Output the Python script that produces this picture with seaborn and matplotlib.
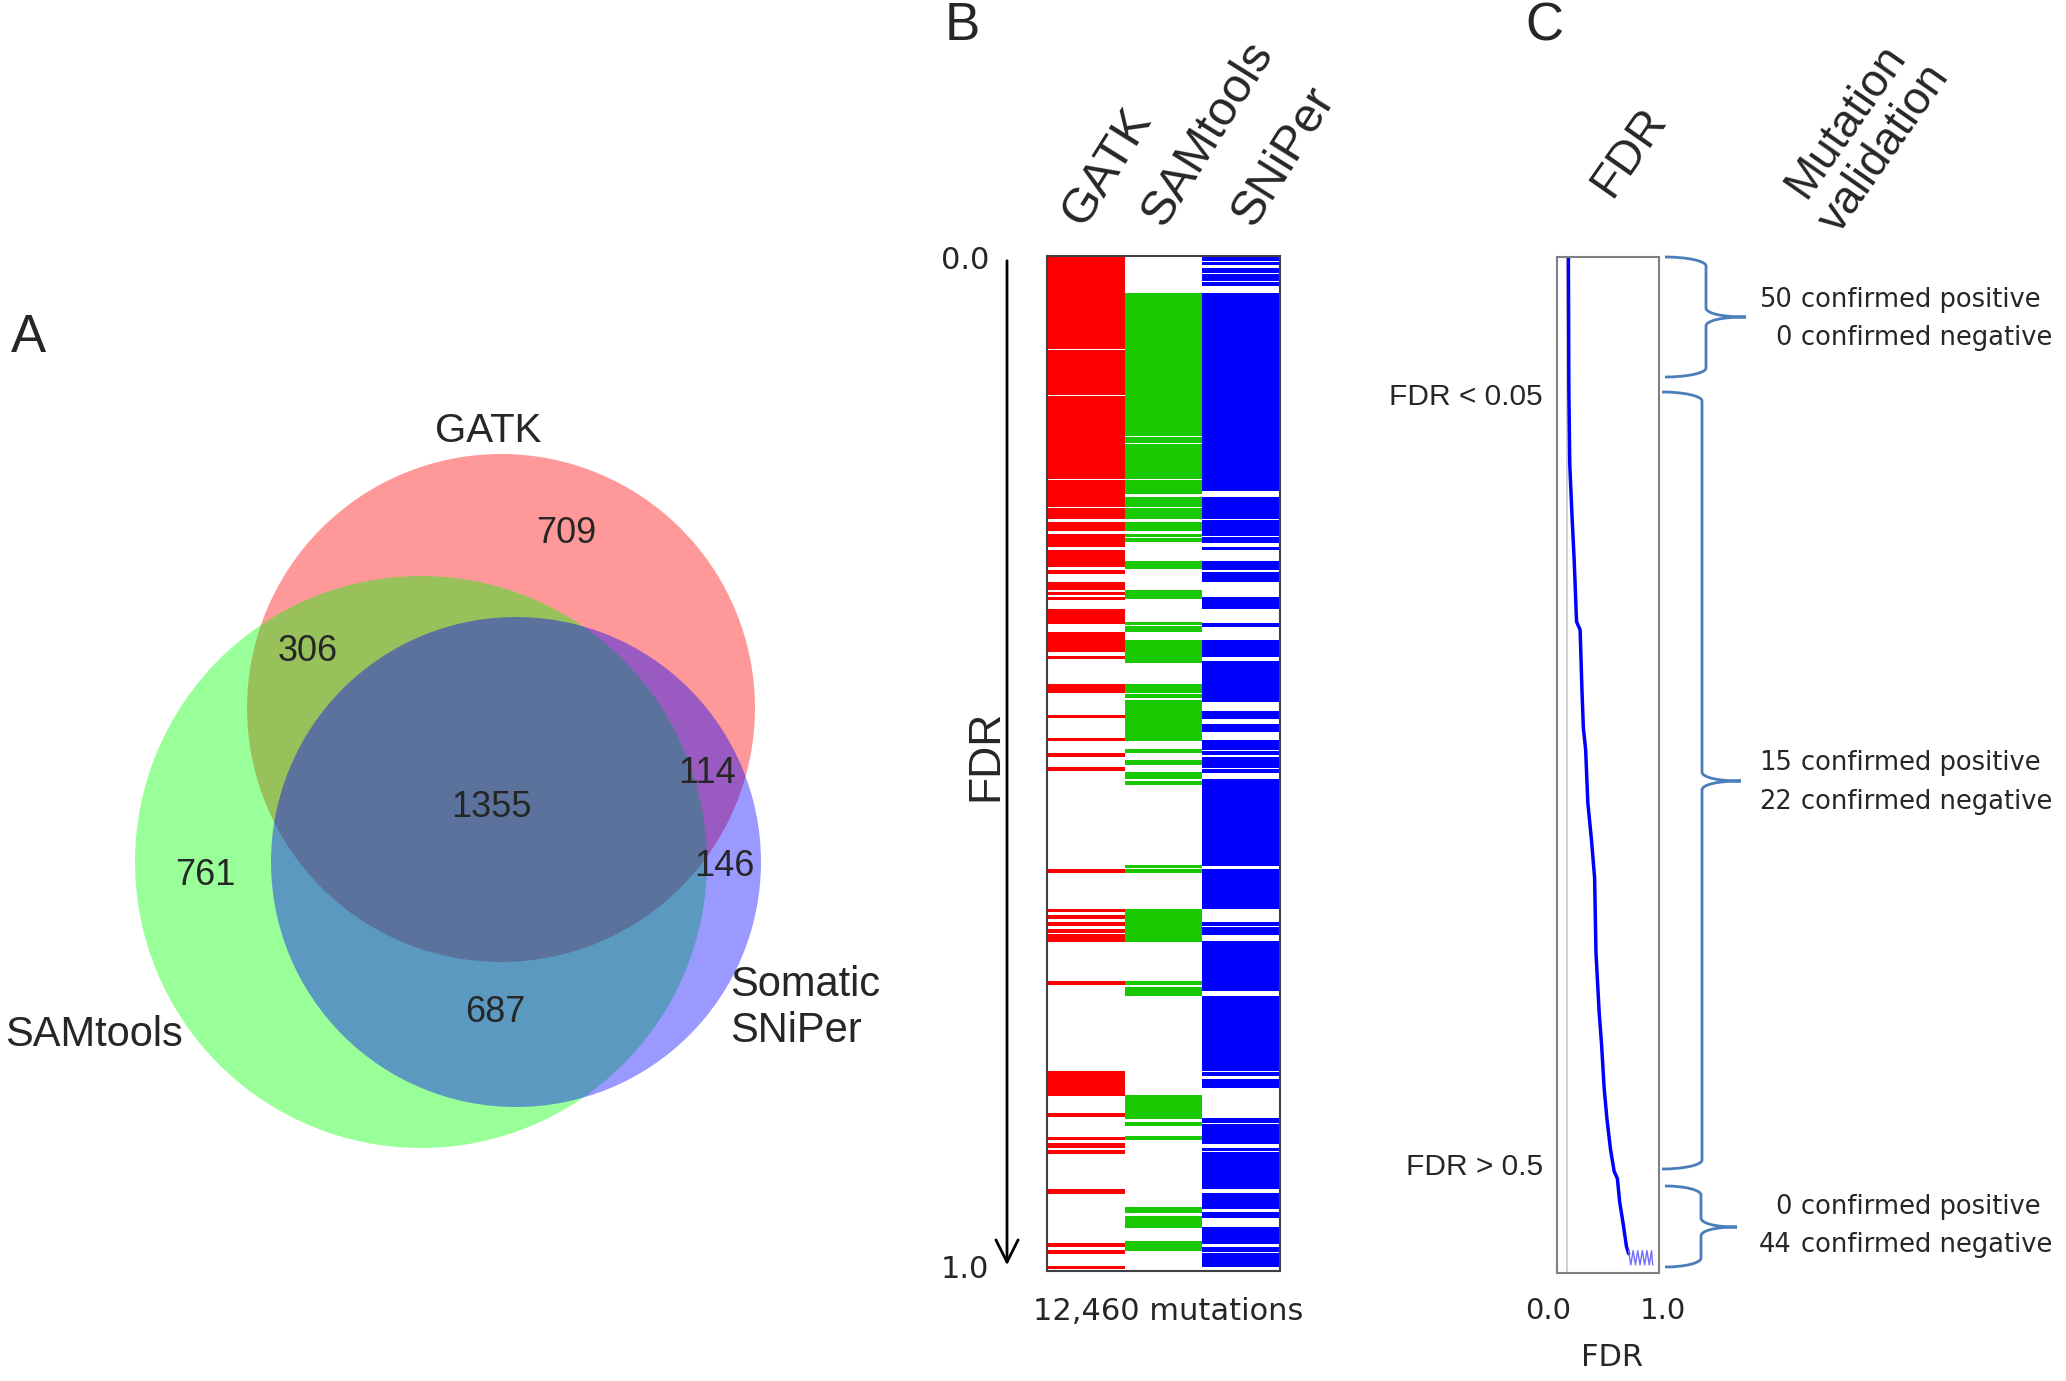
import numpy as np
import pandas as pd
import matplotlib
matplotlib.use("Agg")
import matplotlib.pyplot as plt
import seaborn as sns
from matplotlib.colors import ListedColormap
from matplotlib.patches import Circle, PathPatch
from matplotlib.path import Path
import matplotlib.transforms as mtransforms

# ---------------- data ----------------
# Panel A: Venn counts
venn_sets = ["GATK", "SAMtools", "Somatic\nSNiPer"]
region_names = ["GATK only", "GATK+SAMtools", "all three", "GATK+SNiPer",
                "SNiPer only", "SAMtools only", "SAMtools+SNiPer"]
region_counts = [709, 306, 1355, 114, 146, 761, 687]

# Panel B: calls per caller along the FDR-ranked list (positions in 1/1000 of 12,460 mutations)
n_mutations = 12460
callers = ["GATK", "SAMtools", "SNiPer"]
gatk_calls = [(0, 91), (93, 136), (138, 219), (221, 246), (248, 258), (262, 270),
              (274, 286), (290, 305), (309, 312), (321, 328), (331, 333), (336, 338),
              (348, 362), (370, 389), (394, 396), (422, 430), (452, 454), (475, 477),
              (490, 493), (503, 506), (604, 607), (643, 645), (649, 652), (656, 659),
              (663, 666), (668, 675), (714, 717), (803, 827), (844, 847), (868, 870),
              (874, 878), (881, 884), (919, 923), (972, 975), (979, 982), (995, 997)]
samtools_calls = [(36, 176), (178, 183), (185, 219), (221, 233), (237, 246), (248, 258),
                  (262, 270), (274, 276), (278, 281), (300, 307), (329, 337), (361, 363),
                  (365, 369), (378, 400), (422, 430), (432, 434), (437, 477), (486, 489),
                  (497, 500), (508, 514), (517, 520), (600, 602), (604, 607), (643, 675),
                  (714, 717), (720, 728), (827, 849), (853, 856), (867, 870), (937, 942),
                  (946, 957), (970, 979)]
sniper_calls = [(0, 4), (6, 8), (12, 16), (18, 24), (26, 29), (36, 231), (237, 258),
                (260, 275), (277, 282), (287, 289), (300, 308), (311, 320), (336, 347),
                (362, 365), (378, 394), (399, 438), (448, 455), (461, 464), (465, 468),
                (477, 486), (488, 491), (494, 503), (505, 508), (515, 517), (518, 600),
                (604, 642), (656, 659), (661, 665), (666, 668), (675, 723), (729, 802),
                (804, 807), (811, 819), (849, 853), (855, 874), (879, 881), (883, 918),
                (923, 938), (942, 947), (957, 972), (976, 980), (982, 995)]

# Panel C: FDR along the ranked list
curve_rank = [0.000, 0.130, 0.204, 0.256, 0.300, 0.359, 0.367, 0.426, 0.463, 0.485,
              0.537, 0.574, 0.611, 0.685, 0.744, 0.774, 0.818, 0.848, 0.878, 0.900,
              0.907, 0.930, 0.952, 0.974, 0.981]
curve_fdr = [0.177, 0.181, 0.189, 0.209, 0.228, 0.248, 0.279, 0.295, 0.307, 0.327,
             0.346, 0.378, 0.405, 0.417, 0.445, 0.465, 0.488, 0.512, 0.543, 0.575,
             0.603, 0.623, 0.654, 0.682, 0.701]
tail_rank = [0.978, 0.992, 0.978, 0.992, 0.978, 0.992, 0.978, 0.992, 0.978, 0.992, 0.978, 0.992]
tail_fdr = [0.70, 0.72, 0.74, 0.76, 0.78, 0.80, 0.82, 0.84, 0.86, 0.88, 0.90, 0.91]
fdr_ref_line = 0.165

group_labels = ["FDR < 0.05", "", "FDR > 0.5"]
confirmed_pos = [50, 15, 0]
confirmed_neg = [0, 22, 44]

# ---------------- style ----------------
sns.set_style("white")
plt.rcParams["font.family"] = ["Liberation Sans", "DejaVu Sans"]
WIDE = ["DejaVu Sans"]

W, H = 2066, 1381
fig = plt.figure(figsize=(W / 100, H / 100), dpi=100)
ov = fig.add_axes([0, 0, 1, 1])
ov.set_xlim(0, W)
ov.set_ylim(H, 0)
ov.axis("off")


def px_axes(x0, y0, x1, y1):
    return fig.add_axes([x0 / W, 1 - y1 / H, (x1 - x0) / W, (y1 - y0) / H])


# ---------------- Panel A ----------------
circles = [((501, 708), 254, "#ff0000"), ((421, 862), 286, "#00ff00"), ((516, 862), 245, "#0000ff")]
for (c, r, col) in circles:
    ov.add_patch(Circle(c, r, facecolor=col, alpha=0.4, lw=0))

ov.text(28, 338, "A", fontsize=38, ha="center", va="center")
ov.text(488, 431, venn_sets[0], fontsize=29, ha="center", va="center")
ov.text(5, 1035, venn_sets[1], fontsize=30, ha="left", va="center")
ov.text(730, 1008, venn_sets[2], fontsize=30, ha="left", va="center", linespacing=1.2)
region_pos = [(566, 533), (308, 651), (491, 807), (707, 773), (724, 866), (205, 875), (495, 1012)]
for (x, y), n in zip(region_pos, region_counts):
    ov.text(x, y, str(n), fontsize=26, ha="center", va="center")

# ---------------- Panel B ----------------
nrows = 1000
mat = np.zeros((nrows, 3))
for j, calls in enumerate([gatk_calls, samtools_calls, sniper_calls]):
    for a, b in calls:
        mat[a:b + 1, j] = j + 1
df = pd.DataFrame(mat, columns=callers)
axB = px_axes(1047, 256, 1280, 1271)
sns.heatmap(df, cmap=ListedColormap(["#ffffff", "#ff0000", "#18c800", "#0000ff"]),
            vmin=-0.5, vmax=3.5, cbar=False, xticklabels=False, yticklabels=False, ax=axB)
for s in axB.spines.values():
    s.set_visible(True)
    s.set_color("#404040")
    s.set_linewidth(1.5)

ov.text(962, 26, "B", fontsize=38, ha="center", va="center")
for name, xs in zip(callers, [1084, 1164, 1254]):
    ov.text(xs, 228, name, rotation=58, ha="left", va="baseline",
            rotation_mode="anchor", fontsize=35)
ov.text(989, 260, "0.0", fontsize=22, ha="right", va="center", family=WIDE)
ov.text(989, 1269, "1.0", fontsize=22, ha="right", va="center", family=WIDE)
ov.text(986, 755, "FDR", fontsize=32, rotation=90, ha="center", va="center")
ov.annotate("", xy=(1007, 1268), xytext=(1007, 258),
            arrowprops=dict(arrowstyle="->", lw=2, color="black", mutation_scale=40))
ov.text(1168, 1311, f"{n_mutations:,} mutations", fontsize=22, ha="center", va="center",
        family=WIDE)

# ---------------- Panel C ----------------
axC = px_axes(1557, 257, 1659, 1273)
axC.axvline(fdr_ref_line, color="#c8c8c8", lw=1.2)
sns.lineplot(x=curve_fdr, y=curve_rank, sort=False, estimator=None, color="#0000ff",
             lw=2.5, ax=axC)
sns.lineplot(x=tail_fdr, y=tail_rank, sort=False, estimator=None, color="#6f6fff",
             lw=1.0, ax=axC)
axC.set_xlim(0.078, 0.965)
axC.set_ylim(1.0, 0.0)
axC.set_xticks([])
axC.set_yticks([])
axC.set_xlabel("")
axC.set_ylabel("")
for s in axC.spines.values():
    s.set_visible(True)
    s.set_color("#808080")
    s.set_linewidth(1.5)
trC = mtransforms.blended_transform_factory(axC.transData, axC.transAxes)
for v in [0.0, 1.0]:
    axC.text(v, -0.037, f"{v:.1f}", transform=trC, fontsize=21, ha="center", va="center",
             clip_on=False, family=WIDE)
ov.text(1612, 1357, "FDR", fontsize=22, ha="center", va="center", family=WIDE)

ov.text(1544, 26, "C", fontsize=38, ha="center", va="center")
ov.text(1629, 152, "FDR", fontsize=34, rotation=55, ha="center", va="center")
ov.text(1865, 135, "Mutation\nvalidation", fontsize=33, rotation=55, ha="center",
        va="center", multialignment="center", linespacing=1.1)

ov.text(1543, 397, group_labels[0], fontsize=21.5, ha="right", va="center")
ov.text(1543, 1167, group_labels[2], fontsize=21.5, ha="right", va="center")


def brace(x0, xv, xt, y0, y1, ym, r=9, color="#4a7ebb"):
    k = 0.55
    verts = [(x0, y0),
             (x0 + k * (xv - x0), y0), (xv, y0 + r * (1 - k)), (xv, y0 + r),
             (xv, ym - r),
             (xv, ym - r * (1 - k)), (xv + 0.35 * (xt - xv), ym), (xt, ym),
             (xv + 0.35 * (xt - xv), ym), (xv, ym + r * (1 - k)), (xv, ym + r),
             (xv, y1 - r),
             (xv, y1 - r * (1 - k)), (x0 + k * (xv - x0), y1), (x0, y1)]
    codes = [Path.MOVETO,
             Path.CURVE4, Path.CURVE4, Path.CURVE4,
             Path.LINETO,
             Path.CURVE4, Path.CURVE4, Path.CURVE4,
             Path.CURVE4, Path.CURVE4, Path.CURVE4,
             Path.LINETO,
             Path.CURVE4, Path.CURVE4, Path.CURVE4]
    ov.add_patch(PathPatch(Path(verts, codes), facecolor="none", edgecolor=color, lw=2))


braces = [(1665, 1706, 1746, 257, 377, 317),
          (1662, 1702, 1741, 392, 1169, 781),
          (1665, 1701, 1737, 1186, 1267, 1227)]
text_y = [(300, 338), (763, 802), (1207, 1245)]
for bz, (ya, yb), p, n in zip(braces, text_y, confirmed_pos, confirmed_neg):
    brace(*bz)
    ov.text(1792, ya, f"{p}", fontsize=18.5, ha="right", va="center", family=WIDE)
    ov.text(1801, ya, "confirmed positive", fontsize=18.5, ha="left", va="center", family=WIDE)
    ov.text(1792, yb, f"{n}", fontsize=18.5, ha="right", va="center", family=WIDE)
    ov.text(1801, yb, "confirmed negative", fontsize=18.5, ha="left", va="center", family=WIDE)

fig.savefig("out.png", dpi=100)
